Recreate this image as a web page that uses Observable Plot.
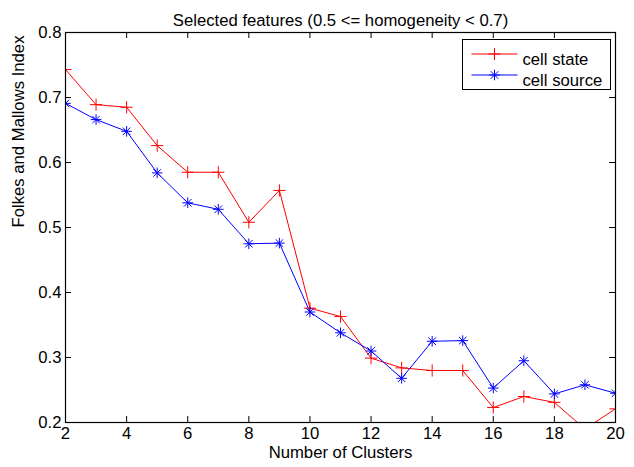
<!DOCTYPE html>
<html>
<head>
<meta charset="utf-8">
<script src="https://cdn.jsdelivr.net/npm/d3@7"></script>
<script src="https://cdn.jsdelivr.net/npm/@observablehq/plot@0.6"></script>
<style>
  html, body { margin: 0; padding: 0; background: #fff; }
  #chart svg { display: block; }
</style>
</head>
<body>
<div id="chart"></div>
<script>
const clusters = [2,3,4,5,6,7,8,9,10,11,12,13,14,15,16,17,18,19,20];
const cellState = [0.743,0.689,0.685,0.626,0.585,0.585,0.508,0.557,0.376,0.363,0.299,0.284,0.280,0.280,0.223,0.240,0.231,0.190,0.221];
const cellSource = [0.691,0.666,0.648,0.584,0.538,0.528,0.475,0.476,0.370,0.338,0.310,0.268,0.325,0.326,0.253,0.295,0.244,0.258,0.245];
const xTicks = [2,4,6,8,10,12,14,16,18,20];
const yTicks = [0.2,0.3,0.4,0.5,0.6,0.7,0.8];
const seriesNames = ["cell state", "cell source"];
const titleText = "Selected features (0.5 <= homogeneity < 0.7)";
const xLabel = "Number of Clusters";
const yLabel = "Folkes and Mallows Index";

const red = "#ff0000", blue = "#0000ff";
const stateData = clusters.map((c, i) => ({x: c, y: cellState[i]}));
const sourceData = clusters.map((c, i) => ({x: c, y: cellSource[i]}));

const W = 634, H = 467;
const mL = 65, mR = 19, mT = 32, mB = 45;
const pw = W - mL - mR, ph = H - mT - mB;
const tl = 6;
const fs = 16.7;

const chart = Plot.plot({
  width: W, height: H,
  marginLeft: mL, marginRight: mR, marginTop: mT, marginBottom: mB,
  style: {fontFamily: "'Liberation Sans', Arial, sans-serif", fontSize: fs + "px", background: "#fff", color: "#000"},
  x: {domain: [2, 20]},
  y: {domain: [0.2, 0.8]},
  marks: [
    Plot.frame({fill: "#fff"}),
    Plot.axisX(xTicks, {tickSize: 0, tickPadding: 5, label: null, fontSize: fs, tickFormat: d => String(d)}),
    Plot.axisY(yTicks, {tickSize: 0, tickPadding: 4, label: null, fontSize: fs, tickFormat: d => d.toFixed(1)}),
    Plot.tickX(xTicks, {x: d => d, insetTop: ph - tl, stroke: "#000"}),
    Plot.tickX(xTicks, {x: d => d, insetBottom: ph - tl, stroke: "#000"}),
    Plot.tickY(yTicks, {y: d => d, insetRight: pw - tl, stroke: "#000"}),
    Plot.tickY(yTicks, {y: d => d, insetLeft: pw - tl, stroke: "#000"}),
    Plot.line(stateData, {x: "x", y: "y", stroke: red, strokeWidth: 1, clip: true}),
    Plot.line(sourceData, {x: "x", y: "y", stroke: blue, strokeWidth: 1, clip: true}),
    Plot.dot(stateData, {x: "x", y: "y", symbol: "plus", r: 4, stroke: red, strokeWidth: 1, clip: true}),
    Plot.dot(sourceData, {x: "x", y: "y", symbol: "plus", r: 3.5, stroke: blue, strokeWidth: 1, clip: true}),
    Plot.dot(sourceData, {x: "x", y: "y", symbol: "times", r: 3.5, stroke: blue, strokeWidth: 1, clip: true}),
    Plot.frame({stroke: "#000", strokeWidth: 1.2}),
    // legend
    Plot.frame({insetLeft: 397, insetRight: 5, insetTop: 7, insetBottom: 333, fill: "#fff", stroke: "#000", strokeWidth: 1}),
    Plot.frame({insetLeft: 406, insetRight: 98, insetTop: 21, insetBottom: ph - 22, fill: red}),
    Plot.frame({insetLeft: 406, insetRight: 98, insetTop: 42, insetBottom: ph - 43, fill: blue}),
    Plot.dot([0], {frameAnchor: "top-left", dx: 429, dy: 21.5, symbol: "plus", r: 4, stroke: red, strokeWidth: 1}),
    Plot.dot([0], {frameAnchor: "top-left", dx: 429, dy: 42.5, symbol: "plus", r: 3.5, stroke: blue, strokeWidth: 1}),
    Plot.dot([0], {frameAnchor: "top-left", dx: 429, dy: 42.5, symbol: "times", r: 3.5, stroke: blue, strokeWidth: 1}),
    Plot.text([seriesNames[0]], {frameAnchor: "top-left", dx: 457, dy: 21, textAnchor: "start", fontSize: fs, fill: "#000"}),
    Plot.text([seriesNames[1]], {frameAnchor: "top-left", dx: 457, dy: 42, textAnchor: "start", fontSize: fs, fill: "#000"}),
    // titles
    Plot.text([titleText], {frameAnchor: "top", dy: -18, fontSize: fs, fill: "#000"}),
    Plot.text([xLabel], {frameAnchor: "bottom", dy: 35, fontSize: fs, fill: "#000"}),
    Plot.text([yLabel], {frameAnchor: "left", dx: -47, rotate: -90, fontSize: fs, fill: "#000"})
  ]
});
document.getElementById("chart").appendChild(chart);
</script>
</body>
</html>
